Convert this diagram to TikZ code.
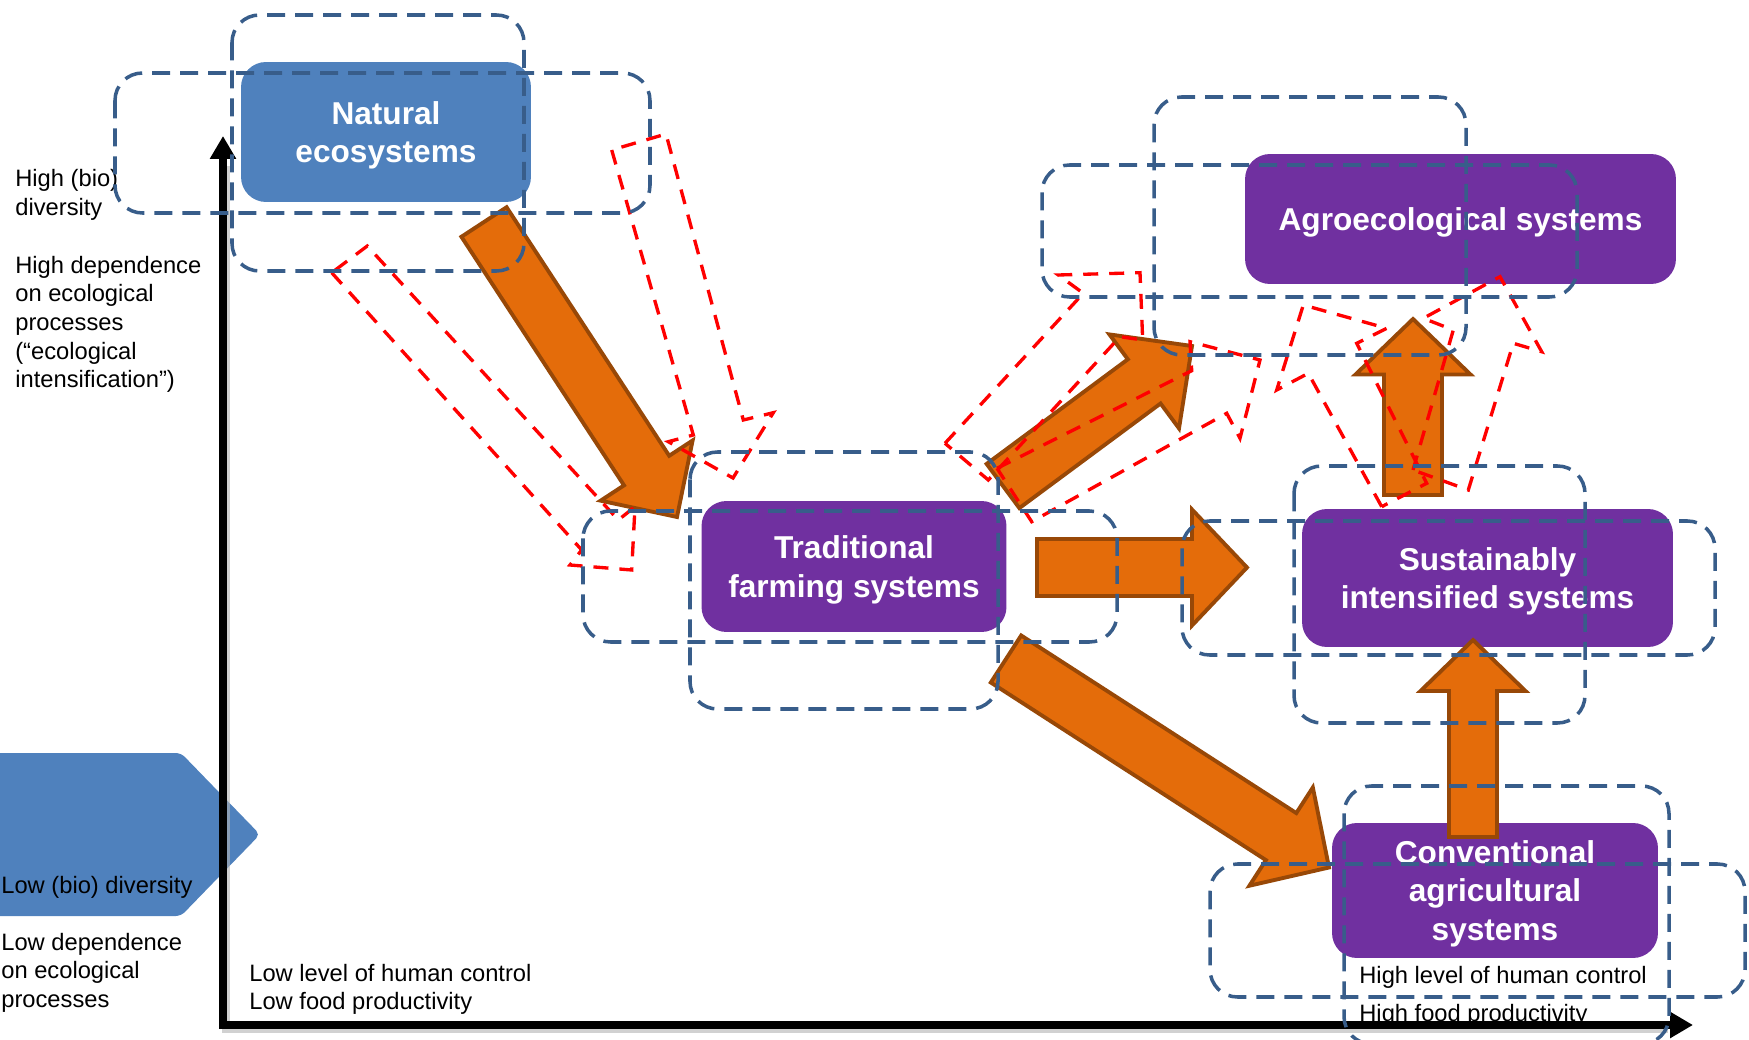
\documentclass[tikz,border=0pt]{standalone}
\usepackage{fontspec}
\setmainfont{Liberation Sans}
\usetikzlibrary{calc,arrows.meta}

\definecolor{natblue}{RGB}{79,129,189}
\definecolor{sysviolet}{RGB}{112,48,160}
\definecolor{arrorange}{RGB}{228,108,10}
\definecolor{arrbrown}{RGB}{152,72,7}
\definecolor{ghostblue}{RGB}{56,93,138}

% flecha gruesa: cola, punta, medio ancho, medio ancho de punta, largo de punta
\newcommand{\blockarrow}[5]{%
  \coordinate (ba) at ($(#2)!#5!(#1)$);
  \draw[fatarrow] ($(#1)!#3!90:(#2)$) -- ($(ba)!#3!90:(#2)$) -- ($(ba)!#4!90:(#2)$)
    -- (#2) -- ($(ba)!#4!-90:(#2)$) -- ($(ba)!#3!-90:(#2)$) -- ($(#1)!#3!-90:(#2)$) -- cycle;}

\begin{document}
\begin{tikzpicture}[x=0.02cm, y=-0.02cm,
    sysbox/.style={rounded corners=0.5cm, fill=sysviolet, text=white, align=center,
      inner sep=0pt, text depth=0pt, font=\fontsize{18}{22.1}\selectfont\bfseries},
    ghost/.style={draw=ghostblue, line width=2pt, dash pattern=on 0.36cm off 0.2cm,
      rounded corners=0.55cm},
    redghost/.style={draw=red, line width=1.9pt, dash pattern=on 0.3cm off 0.22cm},
    fatarrow/.style={fill=arrorange, draw=arrbrown, line width=2.2pt, line join=miter},
    axistext/.style={font=\fontsize{13.5}{16.3}\selectfont, align=left, inner sep=0pt,
      anchor=base west},
    axisline/.style={line width=4pt, >={Triangle[length=0.46cm,width=0.5cm]}, <->}]
    \useasboundingbox (0,0) rectangle (1749,1040);

    % Flecha azul lateral
    \fill[natblue, rounded corners=3] (-10,753) -- (181,753) -- (260,834.5) -- (181,916) -- (-10,916) -- cycle;

    % Textos de los ejes (anclados en la linea base de la ultima linea)
    \node[axistext] (hibio) at (15,215.4) {High (bio)\\diversity};
    \node[axistext] (hidep) at (15,387.8) {High dependence\\on ecological\\processes\\(“ecological\\intensification”)};
    \node[axistext] (lobio) at (1,893) {Low (bio) diversity};
    \node[axistext] (lodep) at (1,1007.4) {Low dependence\\on ecological\\processes};
    \node[axistext] (loctrl) at (249,1009.7) {Low level of human control\\Low food productivity};

    % Ejes
    \coordinate (origin) at (223,1025);
    \coordinate (ytop) at (223,136);
    \coordinate (xend) at (1693,1025);
    \draw[black!30, line width=4pt, opacity=0.6] ($(ytop)+(3,30)$) -- ($(origin)+(3,4)$) -- ($(xend)+(-25,4)$);

    % Sistemas
    \node[sysbox, fill=natblue, minimum width=5.8cm, minimum height=2.8cm] (nat) at (386,132) {Natural\\ecosystems};
    \node[sysbox, minimum width=8.62cm, minimum height=2.6cm] (agro) at (1460.5,219) {Agroecological systems};
    \node[sysbox, minimum width=6.1cm, minimum height=2.62cm] (trad) at (854,566.5) {Traditional\\farming systems};
    \node[sysbox, minimum width=7.42cm, minimum height=2.76cm] (sust) at (1487.5,578) {Sustainably\\intensified systems};
    \node[sysbox, minimum width=6.52cm, minimum height=2.7cm] (conv) at (1495,890.5) {Conventional\\agricultural\\systems};
    \node[axistext] (hictrl) at (1359,1021) {High level of human control\\[0.17cm]High food productivity};

    \draw[axisline] (ytop) -- (origin) -- (xend);

    % Flechas naranjas
    \coordinate (natout) at (484,222);   \coordinate (tradin) at (677,517);
    \coordinate (tradup) at (1003,486);  \coordinate (agroin) at (1192,346);
    \coordinate (tradright) at (1037,567.5); \coordinate (sustin) at (1247,567.5);
    \coordinate (traddown) at (1006,659); \coordinate (convin) at (1329,867.5);
    \coordinate (convout) at (1473,837); \coordinate (sustbot) at (1473,640);
    \coordinate (sustout) at (1413,495); \coordinate (agrobot) at (1413,319);
    \blockarrow{natout}{tradin}{0.54cm}{1.1cm}{1.11cm}
    \blockarrow{tradup}{agroin}{0.55cm}{1.17cm}{1.19cm}
    \blockarrow{tradright}{sustin}{0.57cm}{1.16cm}{1.1cm}
    \blockarrow{traddown}{convin}{0.56cm}{1.17cm}{1.14cm}
    \blockarrow{convout}{sustbot}{0.48cm}{1.05cm}{1.02cm}
    \blockarrow{sustout}{agrobot}{0.58cm}{1.15cm}{1.11cm}

    % Flechas fantasma (rojo)
    \draw[redghost] (331.7,272.7) -- (581.7,550) -- (570,565) -- (631.7,570) -- (635,506.7) -- (618.3,520) -- (367.3,246) -- cycle;
    \draw[redghost] (611.7,150) -- (693.3,435) -- (668.3,441.7) -- (733,478) -- (773.3,412.7) -- (743.3,420) -- (666,134) -- cycle;
    \draw[redghost] (945,443.3) -- (1083.3,293.3) -- (1058.3,275) -- (1140,272.7) -- (1142.7,340) -- (1120,336.7) -- (988.3,480) -- cycle;
    \draw[redghost] (997,468.3) -- (1191.7,370.7) -- (1190,341.7) -- (1260,360) -- (1240,438.3) -- (1226.7,413.3) -- (1031.7,521.7) -- cycle;
    \draw[redghost] (1381.7,506.7) -- (1308.3,373.3) -- (1276.7,390) -- (1303.3,305) -- (1386.7,328.3) -- (1356.7,343.3) -- (1426.7,483.3) -- cycle;
    \draw[redghost] (1413,470) -- (1453.3,330) -- (1423.3,318.3) -- (1500,276.7) -- (1541.7,351.7) -- (1513.3,343.3) -- (1468.3,490) -- cycle;

    % Cajas fantasma (azul)
    \draw[ghost] (115,73) rectangle (650,213);
    \draw[ghost] (232,15) rectangle (524,271);
    \draw[ghost] (1042,165) rectangle (1577,297);
    \draw[ghost] (1154,97) rectangle (1466,355);
    \draw[ghost] (583,511) rectangle (1117,642);
    \draw[ghost] (690,452) rectangle (998,709);
    \draw[ghost] (1182,521) rectangle (1715,655);
    \draw[ghost] (1294,466) rectangle (1585,723);
    \draw[ghost] (1210,864) rectangle (1745,997);
    \draw[ghost] (1344,786) rectangle (1669,1044);
\end{tikzpicture}
\end{document}
